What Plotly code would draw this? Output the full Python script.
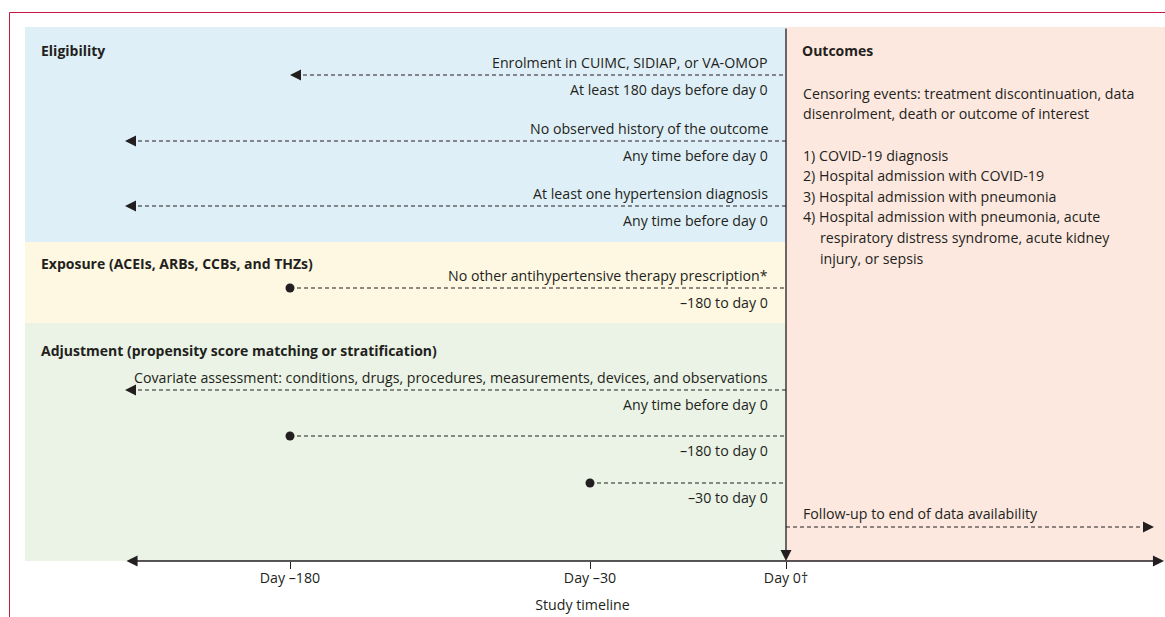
import plotly.graph_objects as go

# ---------------- data ----------------
section_titles = [
    "Eligibility",
    "Exposure (ACEIs, ARBs, CCBs, and THZs)",
    "Adjustment (propensity score matching or stratification)",
]
outcome_title = "Outcomes"

row_text_above = [
    "Enrolment in CUIMC, SIDIAP, or VA-OMOP",
    "No observed history of the outcome",
    "At least one hypertension diagnosis",
    "No other antihypertensive therapy prescription*",
    "Covariate assessment: conditions, drugs, procedures, measurements, devices, and observations",
    "",
    "",
]
row_text_below = [
    "At least 180 days before day 0",
    "Any time before day 0",
    "Any time before day 0",
    "\u2013180 to day 0",
    "Any time before day 0",
    "\u2013180 to day 0",
    "\u201330 to day 0",
]
row_start = ["-180", "any", "any", "-180", "any", "-180", "-30"]
row_start_kind = ["arrow", "arrow", "arrow", "dot", "arrow", "dot", "dot"]

tick_days = ["-180", "-30", "0"]
tick_labels = ["Day \u2013180", "Day \u201330", "Day 0\u2020"]
axis_title = "Study timeline"

outcome_lines = [
    "Censoring events: treatment discontinuation, data",
    "disenrolment, death or outcome of interest",
    "",
    "1) COVID-19 diagnosis",
    "2) Hospital admission with COVID-19",
    "3) Hospital admission with pneumonia",
    "4) Hospital admission with pneumonia, acute",
    "    respiratory distress syndrome, acute kidney",
    "    injury, or sepsis",
]
followup_text = "Follow-up to end of data availability"

# ---------------- layout (schematic scale) ----------------
W, H = 1165, 617
XPOS = {"any": 125, "-180": 290, "-30": 590, "0": 786, "end": 1154, "axis_end": 1164}
ROW_Y = [75, 141, 206, 288, 390, 436, 483]
SECTION_Y = [50, 263, 350]
PANEL_X0, PANEL_X1 = 25, XPOS["0"]
PANEL_Y = [27, 242, 323, 561]
AXIS_Y = 561
TEXT_RIGHT = 770
OUT_X = 801

FONT = "Open Sans"
TXT = "#231F20"
FS = 14.2
HFS = 14
panel_colors = ["#DFEFF7", "#FEF8E2", "#EAF3E5"]
outcome_color = "#FDE8DF"
frame_color = "#C8183F"
DASH = "4px,3px"

fig = go.Figure()
shapes = []
annotations = []

for i, c in enumerate(panel_colors):
    shapes.append(dict(type="rect", xref="x", yref="y", x0=PANEL_X0, x1=PANEL_X1,
                       y0=PANEL_Y[i], y1=PANEL_Y[i + 1], fillcolor=c, line_width=0, layer="below"))
shapes.append(dict(type="rect", xref="x", yref="y", x0=PANEL_X1, x1=W,
                   y0=PANEL_Y[0], y1=PANEL_Y[-1], fillcolor=outcome_color, line_width=0, layer="below"))
# frame (top and left rules)
shapes.append(dict(type="line", xref="x", yref="y", x0=9.5, x1=W, y0=12.5, y1=12.5,
                   line=dict(color=frame_color, width=1)))
shapes.append(dict(type="line", xref="x", yref="y", x0=9.5, x1=9.5, y0=12.5, y1=H,
                   line=dict(color=frame_color, width=1)))

# section headings
for t, y in zip(section_titles, SECTION_Y):
    annotations.append(dict(x=39, y=y, xref="x", yref="y", text="<b>%s</b>" % t, showarrow=False,
                            xanchor="left", yanchor="middle", font=dict(family=FONT, size=HFS, color=TXT)))
annotations.append(dict(x=OUT_X - 1, y=SECTION_Y[0], xref="x", yref="y", text="<b>%s</b>" % outcome_title,
                        showarrow=False, xanchor="left", yanchor="middle",
                        font=dict(family=FONT, size=HFS, color=TXT)))

# rows
for above, below, start, kind, y in zip(row_text_above, row_text_below, row_start, row_start_kind, ROW_Y):
    x0 = XPOS[start]
    fig.add_trace(go.Scatter(x=[x0 + (6 if kind == "arrow" else 0), XPOS["0"]], y=[y, y], mode="lines",
                             line=dict(color=TXT, width=1.1, dash=DASH), hoverinfo="skip", showlegend=False))
    if kind == "dot":
        fig.add_trace(go.Scatter(x=[x0], y=[y], mode="markers", marker=dict(color=TXT, size=9),
                                 hoverinfo="skip", showlegend=False))
    else:
        annotations.append(dict(x=x0, y=y, ax=x0 + 10, ay=y, xref="x", yref="y", axref="x", ayref="y",
                                text="", showarrow=True, arrowhead=2, arrowsize=2.0, arrowwidth=1.1,
                                arrowcolor=TXT))
    if above:
        annotations.append(dict(x=TEXT_RIGHT, y=y - 13, xref="x", yref="y", text=above, showarrow=False,
                                xanchor="right", yanchor="middle", font=dict(family=FONT, size=FS, color=TXT)))
    if below:
        annotations.append(dict(x=TEXT_RIGHT, y=y + 14, xref="x", yref="y", text=below, showarrow=False,
                                xanchor="right", yanchor="middle", font=dict(family=FONT, size=FS, color=TXT)))

# outcomes text
for k, line in enumerate(outcome_lines):
    if not line:
        continue
    indent = 17 if line.startswith("    ") else 0
    annotations.append(dict(x=OUT_X + indent, y=93 + 20.5 * k if k < 3 else 155 + 20.6 * (k - 3),
                            xref="x", yref="y", text=line.strip(), showarrow=False,
                            xanchor="left", yanchor="middle", font=dict(family=FONT, size=FS, color=TXT)))

# follow-up arrow
fy = 527
fig.add_trace(go.Scatter(x=[XPOS["0"], XPOS["end"] - 8], y=[fy, fy], mode="lines",
                         line=dict(color=TXT, width=1.1, dash=DASH), hoverinfo="skip", showlegend=False))
annotations.append(dict(x=XPOS["end"], y=fy, ax=XPOS["end"] - 10, ay=fy, xref="x", yref="y", axref="x",
                        ayref="y", text="", showarrow=True, arrowhead=2, arrowsize=2.0, arrowwidth=1.1,
                        arrowcolor=TXT))
annotations.append(dict(x=OUT_X, y=fy - 14, xref="x", yref="y", text=followup_text, showarrow=False,
                        xanchor="left", yanchor="middle", font=dict(family=FONT, size=FS, color=TXT)))

# day 0 vertical line with arrow
annotations.append(dict(x=XPOS["0"], y=AXIS_Y, ax=XPOS["0"], ay=PANEL_Y[0], xref="x", yref="y",
                        axref="x", ayref="y", text="", showarrow=True, arrowhead=2, arrowsize=1.7,
                        arrowwidth=1.3, arrowcolor=TXT))
# timeline axis (double-headed)
annotations.append(dict(x=XPOS["axis_end"], y=AXIS_Y, ax=XPOS["any"], ay=AXIS_Y, xref="x", yref="y",
                        axref="x", ayref="y", text="", showarrow=True, arrowhead=2, startarrowhead=2,
                        arrowside="end+start", arrowsize=1.7, startarrowsize=1.7, arrowwidth=1.3,
                        arrowcolor=TXT))

fig.update_layout(
    width=W, height=H, margin=dict(l=0, r=0, t=0, b=0),
    paper_bgcolor="white", plot_bgcolor="white",
    shapes=shapes, annotations=annotations, showlegend=False,
    font=dict(family=FONT, size=FS, color=TXT),
)
fig.update_xaxes(range=[0, W], showgrid=False, zeroline=False, showline=False,
                 tickvals=[XPOS[d] for d in tick_days], ticktext=tick_labels,
                 ticks="outside", ticklen=7, tickcolor=TXT, tickwidth=1,
                 tickfont=dict(family=FONT, size=FS, color=TXT), ticklabelstandoff=-3,
                 anchor="free", position=(H - AXIS_Y) / H,
                 title=dict(text=axis_title, font=dict(family=FONT, size=FS, color=TXT), standoff=14),
                 fixedrange=True)
fig.update_yaxes(range=[H, 0], visible=False, fixedrange=True)

fig.write_html("out.html", config={"displayModeBar": False},
               post_script="document.body.style.margin='0';document.body.style.overflow='hidden';")
